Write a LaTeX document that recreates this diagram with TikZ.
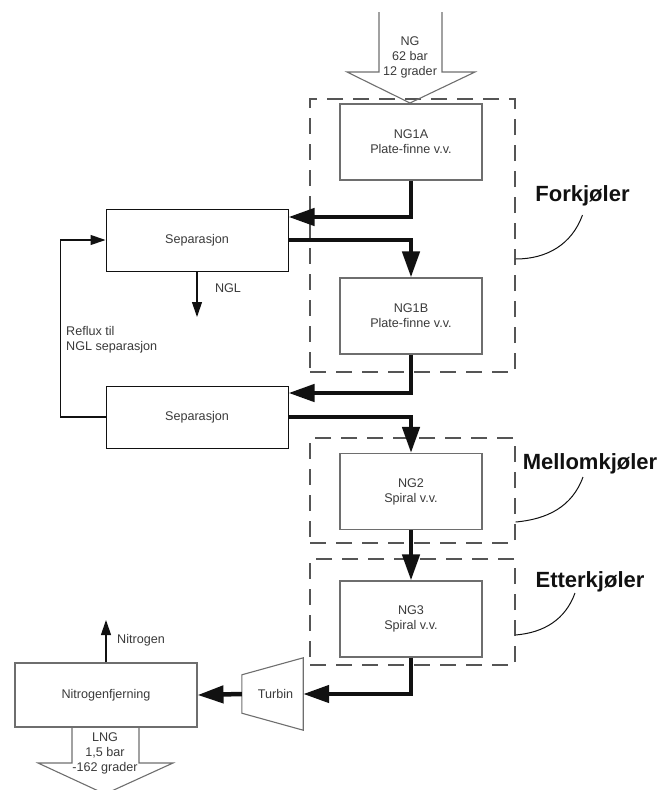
\documentclass[tikz,border=0pt]{standalone}
\usepackage{fontspec}
\setmainfont{Liberation Sans}
\usepackage{tikz}
\usetikzlibrary{positioning,arrows.meta,calc}
\definecolor{LNGink}{HTML}{111111}
\definecolor{LNGtext}{HTML}{3A3A3A}
\definecolor{LNGedge}{HTML}{6E6E6E}
\definecolor{LNGdash}{HTML}{555555}
\tikzset{
  unitbox/.style={draw=LNGedge, line width=1.1pt, minimum width=142pt, minimum height=76pt, align=center, font=\fontsize{12.6}{15}\selectfont, text=LNGtext, inner sep=0pt},
  sepbox/.style={draw=LNGink, line width=1pt, minimum width=182pt, minimum height=62pt, align=center, font=\fontsize{12.6}{15}\selectfont, text=LNGtext, inner sep=0pt},
  grpbox/.style={draw=LNGdash, line width=1.3pt, dash pattern=on 16pt off 10pt, minimum width=205pt, inner sep=0pt},
  grplabel/.style={font=\bfseries\fontsize{22}{26}\selectfont, text=LNGink, anchor=base, inner sep=0pt},
  flowtext/.style={font=\fontsize{12.6}{15}\selectfont, text=LNGtext, align=center, inner sep=0pt},
  mainarr/.style={-{Triangle[length=26pt, width=17pt]}, line width=4.5pt, draw=LNGink},
  sidearr/.style={-{Triangle[length=15pt, width=10pt]}, line width=1.2pt, draw=LNGink},
  calloutline/.style={line width=1pt, draw=LNGink},
  bigarrow/.style={draw=LNGedge, line width=1.1pt, line join=miter}
}

\begin{document}
\begin{tikzpicture}[x={(1pt,0)}, y={(0,-1pt)}]
\useasboundingbox (0,0) rectangle (659,790);

% dashed cooler groups
\node[grpbox, minimum height=273pt] (grp1) at (412.5,235.5) {};
\node[grpbox, minimum height=105pt] (grp2) at (412.5,490.5) {};
\node[grpbox, minimum height=106pt] (grp3) at (412.5,612) {};

% heat exchangers
\node[unitbox] (ng1a) at (411,142) {NG1A\\Plate-finne v.v.};
\node[unitbox] (ng1b) at (411,316) {NG1B\\Plate-finne v.v.};
\node[unitbox] (ng2) at (411,491.5) {NG2\\Spiral v.v.};
\node[unitbox] (ng3) at (411,619) {NG3\\Spiral v.v.};

% separators
\node[sepbox] (sep1) at (197,240) {Separasjon};
\node[sepbox] (sep2) at (197,417) {Separasjon};

% nitrogen removal and turbine
\node[unitbox, minimum width=182pt, minimum height=64pt] (nfj) at (106,695) {Nitrogenfjerning};
\node[flowtext, minimum width=61pt, minimum height=72pt] (turbin) at (272.5,694) {\hspace*{6pt}Turbin};
\draw[bigarrow] (turbin.north east) -- (turbin.south east) -- ([yshift=17pt]turbin.south west) -- ([yshift=-17pt]turbin.north west) -- cycle;

% feed and product
\node[flowtext] (ngin) at (410,57) {NG\\62 bar\\12 grader};
\draw[bigarrow] (379,12) -- (379,72) -- (347,72) -- (410,103) -- (475,72) -- (442,72) -- (442,12);
\draw[bigarrow] (72,727) -- (72,763) -- (38,763) -- (105,794) -- (173,763) -- (139,763) -- (139,727);
\node[flowtext] (lngout) at (105,753) {LNG\\1,5 bar\\-162 grader};

% main flow
\draw[mainarr] (ng1a.south) |- ([yshift=23pt]sep1.east);
\draw[mainarr] (sep1.east) -| (ng1b.north);
\draw[mainarr] (ng1b.south) |- ([yshift=24pt]sep2.east);
\draw[mainarr] (sep2.east) -| (ng2.north);
\draw[mainarr] (ng2.south) -- (ng3.north);
\draw[mainarr] (ng3.south) |- (turbin.east);
\draw[mainarr] (turbin.west) -- (nfj.east);

% side streams
\coordinate (nglout) at (197,317);
\coordinate (n2out) at (106,620);
\draw[sidearr] (sep1.south) -- (nglout);
\draw[sidearr] (sep2.west) -- ++(-45,0) |- (sep1.west);
\draw[sidearr] (nfj.north) -- (n2out);
\node[flowtext] (ngl) at (228,288) {NGL};
\node[flowtext, align=left, anchor=west] (reflux) at (66,340) {Reflux til\\NGL separasjon};
\node[flowtext] (nitro) at (141,640) {Nitrogen};

% group labels
\node[grplabel] (lblfork) at (582.5,201) {Forkjøler};
\node[grplabel] (lblmellom) at (590,469) {Mellomkjøler};
\node[grplabel] (lbletter) at (590,587) {Etterkjøler};
\draw[calloutline] ([yshift=-14pt]lblfork.base) to[out=-110, in=0] ([yshift=-23.5pt]grp1.east);
\draw[calloutline] ([xshift=-7pt, yshift=-8pt]lblmellom.base) to[out=-110, in=5] ([yshift=-31.5pt]grp2.east);
\draw[calloutline] ([xshift=-15pt, yshift=-6pt]lbletter.base) to[out=-110, in=5] ([yshift=-23pt]grp3.east);
\end{tikzpicture}
\end{document}
